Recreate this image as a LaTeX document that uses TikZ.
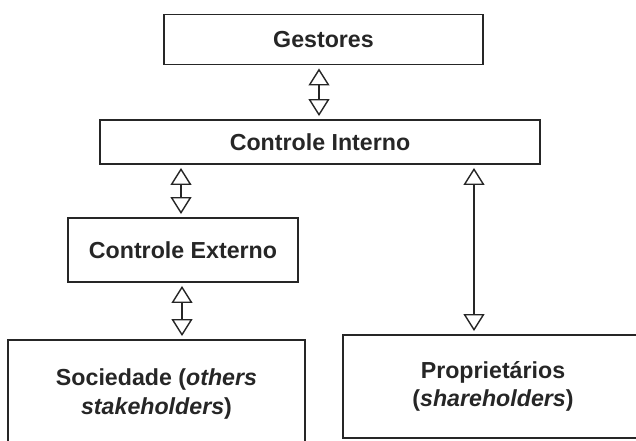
\documentclass[tikz,border=0pt]{standalone}
\usepackage{fontspec}
\setmainfont{Liberation Sans}
\usetikzlibrary{arrows.meta}
\begin{document}
\begin{tikzpicture}[x=0.02cm,y=-0.02cm,
  box/.style={draw=black!85,line width=1.1pt,rectangle,inner sep=0pt,align=center,
    font=\fontsize{13.2pt}{16pt}\selectfont\bfseries,text=black!85},
  dbl/.style={draw=black!85,line width=1.1pt,shorten <=0.06cm,shorten >=0.06cm,
    {Triangle[open,fill=white,length=0.34cm,width=0.42cm,line width=0.8pt]}-{Triangle[open,fill=white,length=0.34cm,width=0.42cm,line width=0.8pt]}},
  thin/.style={dbl,line width=0.7pt}]
\useasboundingbox (0,0) rectangle (636,440);
\clip (0,0) rectangle (636,440);
\node[box,minimum width=6.38cm,minimum height=1.0cm] (G) at (323.5,39.5) {Gestores};
\node[box,minimum width=8.8cm,minimum height=0.88cm] (CI) at (320,142) {Controle Interno};
\node[box,minimum width=4.6cm,minimum height=1.28cm] (CE) at (183,250) {Controle Externo};
\node[box,minimum width=5.94cm,minimum height=2.16cm] (S) at (156.5,394) {Sociedade (\textit{others}\\\textit{stakeholders})};
\node[box,minimum width=6.0cm,minimum height=2.06cm] (P) at (493,386.5) {Proprietários\\(\textit{shareholders})};
\draw[dbl] (G.south -| 319,0) -- (CI.north -| 319,0);
\draw[dbl] (CI.south -| 181,0) -- (CE.north -| 181,0);
\draw[dbl] (CE.south -| 182,0) -- (S.north -| 182,0);
\draw[thin] (CI.south -| 474,0) -- (P.north -| 474,0);
\end{tikzpicture}
\end{document}
